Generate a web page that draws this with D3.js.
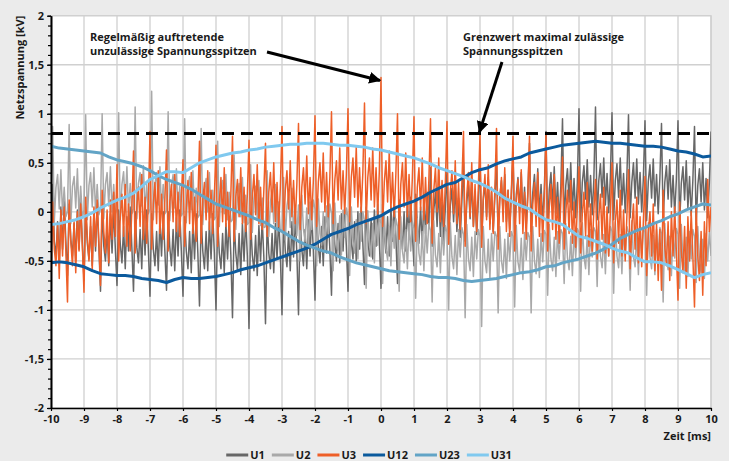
<!DOCTYPE html>
<html>
<head>
<meta charset="utf-8">
<script src="https://cdn.jsdelivr.net/npm/d3@7"></script>
<style>
  body { margin: 0; background: #ebebeb; }
  svg { display: block; font-family: "Open Sans", sans-serif; font-weight: 700; }
</style>
</head>
<body>
<svg id="chart" width="729" height="461"></svg>
<script>
// spiky phase voltages, one sample every 0.05 ms from -10 ms to 10 ms (one row = 0.5 ms)
const u1 = [
  -0.70, 0.28, -0.30, -0.45, -0.10, -0.52, 0.05, -0.38, 0.12, -0.30,
  -0.65, 0.08, -0.28, -0.45, -0.12, -0.50, 0.02, -0.38, 0.10, -0.32,
  -0.70, 0.05, -0.32, -0.48, -0.15, -0.55, 0.00, -0.40, 0.08, -0.35,
  -0.81, 0.05, -0.35, -0.50, -0.18, -0.55, -0.02, -0.42, 0.05, -0.38,
  -0.75, 0.02, -0.33, -0.52, -0.15, -0.58, -0.05, -0.40, 0.05, -0.36,
  -0.81, 0.00, -0.36, -0.52, -0.18, -0.58, -0.05, -0.44, 0.02, -0.38,
  -0.86, -0.02, -0.38, -0.55, -0.20, -0.60, -0.08, -0.45, 0.00, -0.40,
  -0.80, 0.00, -0.36, -0.55, -0.18, -0.60, -0.06, -0.45, 0.02, -0.40,
  -0.86, -0.05, -0.40, -0.58, -0.20, -0.62, -0.10, -0.48, -0.02, -0.42,
  -0.96, -0.05, -0.40, -0.58, -0.20, -0.60, -0.10, -0.48, -0.02, -0.42,
  -1.00, -0.08, -0.42, -0.58, -0.22, -0.62, -0.12, -0.48, -0.05, -0.44,
  -1.08, -0.10, -0.42, -0.60, -0.22, -0.64, -0.12, -0.50, -0.06, -0.45,
  -1.19, -0.10, -0.44, -0.60, -0.24, -0.65, -0.14, -0.50, -0.08, -0.46,
  -1.14, -0.08, -0.42, -0.58, -0.22, -0.62, -0.12, -0.48, -0.06, -0.44,
  -1.05, -0.06, -0.40, -0.56, -0.20, -0.60, -0.10, -0.46, -0.04, -0.42,
  -1.05, -0.05, -0.38, -0.55, -0.18, -0.58, -0.08, -0.45, -0.02, -0.40,
  -0.90, -0.02, -0.35, -0.52, -0.15, -0.55, -0.05, -0.42, 0.00, -0.38,
  -0.85, 0.00, -0.33, -0.50, -0.12, -0.52, -0.02, -0.40, 0.02, -0.35,
  -0.81, 0.03, -0.30, -0.48, -0.10, -0.50, 0.00, -0.38, 0.05, -0.32,
  -0.74, 0.05, -0.28, -0.45, -0.08, -0.48, 0.02, -0.35, 0.08, -0.30,
  -0.78, 0.08, -0.22, -0.42, -0.05, -0.45, 0.05, -0.30, 0.10, -0.25,
  -0.73, 0.12, -0.18, -0.38, 0.00, -0.40, 0.10, -0.28, 0.15, -0.22,
  -0.55, 0.18, -0.12, -0.32, 0.05, -0.35, 0.15, -0.22, 0.20, -0.15,
  0.45, -0.35, 0.02, 0.20, -0.15, 0.25, -0.25, 0.10, -0.30, 0.05,
  0.42, -0.32, 0.06, 0.24, -0.10, 0.28, -0.20, 0.14, -0.26, 0.10,
  0.50, -0.30, 0.10, 0.27, -0.07, 0.32, -0.15, 0.17, -0.23, 0.12,
  0.53, -0.28, 0.12, 0.30, -0.05, 0.35, -0.12, 0.20, -0.20, 0.15,
  0.50, -0.25, 0.15, 0.32, -0.02, 0.38, -0.10, 0.22, -0.18, 0.18,
  0.60, -0.22, 0.18, 0.35, 0.01, 0.40, -0.07, 0.25, -0.15, 0.20,
  0.70, -0.20, 0.20, 0.38, 0.04, 0.44, -0.04, 0.28, -0.12, 0.24,
  0.82, -0.17, 0.23, 0.40, 0.06, 0.46, -0.02, 0.30, -0.10, 0.26,
  0.95, -0.13, 0.27, 0.44, 0.10, 0.50, 0.02, 0.34, -0.06, 0.30,
  1.05, -0.10, 0.30, 0.47, 0.13, 0.53, 0.05, 0.37, -0.03, 0.33,
  1.07, -0.08, 0.32, 0.49, 0.15, 0.55, 0.07, 0.39, -0.01, 0.35,
  1.01, -0.08, 0.32, 0.49, 0.15, 0.55, 0.07, 0.39, -0.01, 0.35,
  0.99, -0.06, 0.30, 0.50, 0.14, 0.54, 0.08, 0.40, 0.00, 0.34,
  0.93, -0.09, 0.31, 0.48, 0.14, 0.54, 0.06, 0.38, -0.02, 0.34,
  0.90, -0.10, 0.30, 0.47, 0.13, 0.53, 0.05, 0.37, -0.03, 0.33,
  0.93, -0.11, 0.29, 0.46, 0.12, 0.52, 0.04, 0.36, -0.04, 0.32,
  0.87, -0.13, 0.27, 0.44, 0.10, 0.50, 0.02, 0.34, -0.06, 0.30,
  0.82
];

const u2 = [
  0.00, 0.87, -0.10, 0.25, 0.38, 0.03, 0.43, -0.03, 0.25, -0.05,
  0.00, 0.89, -0.12, 0.26, 0.36, 0.04, 0.44, -0.04, 0.26, -0.06,
  0.02, 0.99, -0.08, 0.27, 0.40, 0.05, 0.45, -0.01, 0.28, -0.03,
  0.03, 1.00, -0.07, 0.28, 0.40, 0.06, 0.46, 0.00, 0.28, -0.02,
  0.03, 1.01, -0.08, 0.28, 0.41, 0.06, 0.46, 0.00, 0.29, -0.02,
  0.03, 1.07, -0.07, 0.29, 0.40, 0.06, 0.47, 0.00, 0.28, -0.02,
  0.03, 1.23, -0.08, 0.28, 0.40, 0.07, 0.46, 0.00, 0.28, -0.02,
  0.01, 1.02, -0.09, 0.26, 0.38, 0.04, 0.44, -0.02, 0.26, -0.04,
  -0.01, 0.95, -0.11, 0.24, 0.36, 0.02, 0.42, -0.04, 0.24, -0.06,
  -0.03, 0.85, -0.13, 0.22, 0.34, 0.00, 0.40, -0.06, 0.22, -0.08,
  -0.05, 0.72, -0.15, 0.20, 0.32, -0.02, 0.38, -0.08, 0.20, -0.10,
  -0.08, 0.58, -0.18, 0.17, 0.29, -0.05, 0.35, -0.11, 0.17, -0.13,
  -0.11, 0.48, -0.21, 0.14, 0.26, -0.08, 0.32, -0.14, 0.14, -0.16,
  -0.15, 0.42, -0.25, 0.10, 0.22, -0.12, 0.28, -0.18, 0.10, -0.20,
  -0.19, 0.35, -0.29, 0.06, 0.18, -0.16, 0.24, -0.22, 0.06, -0.24,
  0.07, -0.50, 0.17, -0.18, -0.30, 0.04, -0.36, 0.10, -0.18, 0.12,
  0.03, -0.55, 0.13, -0.22, -0.34, 0.00, -0.40, 0.06, -0.22, 0.08,
  -0.01, -0.60, 0.09, -0.26, -0.38, -0.04, -0.44, 0.02, -0.26, 0.04,
  -0.05, -0.65, 0.05, -0.30, -0.42, -0.08, -0.48, -0.02, -0.30, 0.00,
  -0.09, -0.78, 0.01, -0.34, -0.46, -0.12, -0.52, -0.06, -0.34, -0.04,
  -0.12, -0.73, -0.02, -0.37, -0.49, -0.15, -0.55, -0.09, -0.37, -0.07,
  -0.15, -0.81, -0.05, -0.40, -0.52, -0.18, -0.58, -0.12, -0.40, -0.10,
  -0.17, -0.88, -0.07, -0.42, -0.54, -0.20, -0.60, -0.14, -0.42, -0.12,
  -0.19, -0.92, -0.09, -0.44, -0.56, -0.22, -0.62, -0.16, -0.44, -0.14,
  -0.21, -1.00, -0.11, -0.46, -0.58, -0.24, -0.64, -0.18, -0.46, -0.16,
  -0.23, -1.08, -0.13, -0.48, -0.60, -0.26, -0.66, -0.20, -0.48, -0.18,
  -0.25, -1.17, -0.15, -0.50, -0.62, -0.28, -0.68, -0.22, -0.50, -0.20,
  -0.25, -1.03, -0.15, -0.50, -0.62, -0.28, -0.68, -0.22, -0.50, -0.20,
  -0.25, -0.97, -0.14, -0.51, -0.61, -0.27, -0.69, -0.21, -0.49, -0.21,
  -0.26, -1.03, -0.15, -0.50, -0.63, -0.28, -0.67, -0.22, -0.51, -0.19,
  -0.23, -0.85, -0.13, -0.48, -0.60, -0.26, -0.66, -0.20, -0.48, -0.18,
  -0.22, -0.73, -0.12, -0.47, -0.59, -0.25, -0.65, -0.19, -0.47, -0.17,
  -0.21, -0.81, -0.11, -0.46, -0.58, -0.24, -0.64, -0.18, -0.46, -0.16,
  -0.20, -0.76, -0.10, -0.45, -0.57, -0.23, -0.63, -0.17, -0.45, -0.15,
  -0.20, -0.83, -0.10, -0.45, -0.57, -0.23, -0.63, -0.17, -0.45, -0.15,
  -0.21, -0.80, -0.09, -0.46, -0.56, -0.22, -0.64, -0.16, -0.44, -0.16,
  -0.21, -0.85, -0.11, -0.46, -0.58, -0.24, -0.64, -0.18, -0.46, -0.16,
  -0.22, -0.92, -0.12, -0.47, -0.59, -0.25, -0.65, -0.19, -0.47, -0.17,
  -0.23, -0.78, -0.13, -0.48, -0.60, -0.26, -0.66, -0.20, -0.48, -0.18,
  -0.25, -0.72, -0.15, -0.50, -0.62, -0.28, -0.68, -0.22, -0.50, -0.20,
  -0.45
];

const u3 = [
  -0.75, 0.10, -0.38, -0.55, -0.12, -0.68, 0.02, -0.45, 0.05, -0.40,
  -0.92, 0.12, -0.30, -0.55, -0.10, -0.62, 0.00, -0.40, 0.08, -0.35,
  -0.82, 0.15, -0.25, -0.50, -0.05, -0.60, 0.05, -0.35, 0.12, -0.30,
  -0.75, 0.22, -0.20, -0.42, 0.02, -0.52, 0.12, -0.28, 0.20, -0.25,
  0.48, -0.50, -0.05, 0.18, -0.25, 0.28, -0.35, 0.08, -0.40, 0.02,
  0.62, -0.42, 0.05, 0.25, -0.15, 0.38, -0.28, 0.15, -0.32, 0.10,
  0.82, -0.38, 0.08, 0.30, -0.12, 0.42, -0.22, 0.18, -0.28, 0.12,
  0.63, -0.40, 0.10, 0.28, -0.10, 0.38, -0.20, 0.20, -0.25, 0.15,
  0.53, -0.35, 0.05, 0.32, -0.12, 0.40, -0.22, 0.15, -0.30, 0.10,
  0.72, -0.32, 0.12, 0.30, -0.08, 0.42, -0.18, 0.22, -0.22, 0.15,
  0.68, -0.35, 0.10, 0.35, -0.10, 0.45, -0.15, 0.20, -0.25, 0.18,
  0.77, -0.30, 0.15, 0.33, -0.05, 0.45, -0.12, 0.25, -0.20, 0.18,
  0.73, -0.28, 0.15, 0.38, -0.03, 0.48, -0.12, 0.25, -0.18, 0.22,
  0.70, -0.25, 0.20, 0.40, 0.00, 0.50, -0.10, 0.30, -0.15, 0.25,
  0.87, -0.22, 0.22, 0.42, 0.03, 0.52, -0.05, 0.32, -0.12, 0.28,
  0.90, -0.18, 0.25, 0.45, 0.08, 0.57, -0.02, 0.35, -0.08, 0.32,
  0.98, -0.15, 0.30, 0.50, 0.10, 0.60, 0.00, 0.40, -0.05, 0.35,
  1.02, -0.12, 0.32, 0.52, 0.12, 0.65, 0.03, 0.42, -0.02, 0.38,
  1.05, -0.10, 0.35, 0.55, 0.15, 0.66, 0.05, 0.45, 0.00, 0.40,
  1.11, -0.12, 0.35, 0.55, 0.12, 0.65, 0.05, 0.45, -0.02, 0.42,
  1.37, -0.15, 0.30, 0.52, 0.10, 0.62, 0.02, 0.40, -0.05, 0.38,
  1.00, -0.28, 0.28, 0.50, 0.05, 0.60, -0.05, 0.38, -0.10, 0.35,
  0.97, -0.30, 0.25, 0.45, 0.02, 0.55, -0.08, 0.35, -0.12, 0.32,
  0.95, -0.32, 0.22, 0.45, 0.00, 0.55, -0.10, 0.32, -0.15, 0.30,
  0.92, -0.33, 0.20, 0.42, -0.02, 0.52, -0.12, 0.30, -0.18, 0.28,
  0.82, -0.35, 0.18, 0.40, -0.05, 0.50, -0.15, 0.28, -0.20, 0.25,
  0.79, -0.36, 0.15, 0.38, -0.08, 0.48, -0.18, 0.25, -0.22, 0.22,
  0.85, -0.38, 0.12, 0.35, -0.10, 0.45, -0.20, 0.22, -0.25, 0.20,
  0.77, -0.40, 0.10, 0.33, -0.12, 0.43, -0.22, 0.20, -0.28, 0.18,
  0.77, -0.40, 0.08, 0.30, -0.15, 0.40, -0.25, 0.18, -0.30, 0.15,
  0.79, -0.40, 0.05, 0.28, -0.18, 0.38, -0.28, 0.15, -0.32, 0.10,
  0.56, -0.38, 0.00, 0.22, -0.22, 0.32, -0.32, 0.10, -0.36, 0.05,
  0.46, -0.42, -0.02, 0.20, -0.25, 0.30, -0.35, 0.08, -0.40, 0.02,
  0.33, -0.48, -0.05, 0.18, -0.28, 0.25, -0.42, 0.05, -0.45, 0.00,
  0.50, -0.52, -0.10, 0.12, -0.32, 0.22, -0.45, 0.02, -0.50, -0.05,
  0.43, -0.58, -0.15, 0.08, -0.38, 0.15, -0.52, -0.05, -0.56, -0.10,
  0.36, -0.65, -0.22, 0.00, -0.45, 0.08, -0.60, -0.12, -0.70, -0.18,
  -0.80, 0.22, -0.35, -0.55, -0.10, -0.70, 0.00, -0.45, 0.05, -0.40,
  -0.90, 0.10, -0.40, -0.62, -0.15, -0.78, -0.05, -0.50, 0.00, -0.45,
  -0.97, 0.05, -0.45, -0.70, -0.20, -0.85, -0.10, -0.55, 0.33, -0.20,
  0.05
];

// line-to-line voltages, one sample every 0.25 ms from -10 ms to 10 ms
const u12 = [
  -0.52, -0.51, -0.52, -0.54, -0.56, -0.60, -0.63, -0.64, -0.65, -0.65,
  -0.66, -0.68, -0.69, -0.70, -0.72, -0.69, -0.67, -0.68, -0.68, -0.67,
  -0.66, -0.64, -0.62, -0.59, -0.57, -0.55, -0.52, -0.49, -0.46, -0.43,
  -0.40, -0.37, -0.33, -0.28, -0.23, -0.20, -0.17, -0.13, -0.10, -0.07,
  -0.04, 0.01, 0.05, 0.08, 0.11, 0.15, 0.20, 0.24, 0.28, 0.30,
  0.35, 0.40, 0.43, 0.45, 0.49, 0.52, 0.54, 0.56, 0.60, 0.62,
  0.64, 0.66, 0.68, 0.69, 0.70, 0.71, 0.72, 0.71, 0.70, 0.70,
  0.69, 0.68, 0.67, 0.67, 0.66, 0.64, 0.62, 0.61, 0.59, 0.56,
  0.57
];

const u23 = [
  0.67, 0.65, 0.64, 0.63, 0.62, 0.61, 0.60, 0.56, 0.53, 0.51,
  0.49, 0.46, 0.42, 0.37, 0.33, 0.30, 0.27, 0.23, 0.18, 0.13,
  0.08, 0.05, 0.02, -0.01, -0.04, -0.08, -0.11, -0.16, -0.20, -0.25,
  -0.30, -0.34, -0.37, -0.40, -0.42, -0.46, -0.49, -0.52, -0.54, -0.56,
  -0.58, -0.60, -0.61, -0.62, -0.63, -0.64, -0.66, -0.67, -0.67, -0.68,
  -0.70, -0.71, -0.70, -0.69, -0.68, -0.66, -0.64, -0.62, -0.61, -0.59,
  -0.56, -0.55, -0.52, -0.50, -0.48, -0.45, -0.42, -0.38, -0.33, -0.27,
  -0.23, -0.19, -0.16, -0.12, -0.09, -0.05, -0.02, 0.02, 0.05, 0.08,
  0.07
];

const u31 = [
  -0.13, -0.12, -0.10, -0.08, -0.05, -0.01, 0.04, 0.08, 0.12, 0.15,
  0.19, 0.26, 0.33, 0.37, 0.41, 0.41, 0.40, 0.45, 0.50, 0.53,
  0.56, 0.58, 0.60, 0.61, 0.63, 0.64, 0.66, 0.67, 0.68, 0.69,
  0.69, 0.70, 0.70, 0.70, 0.69, 0.68, 0.68, 0.67, 0.66, 0.64,
  0.63, 0.61, 0.59, 0.57, 0.55, 0.52, 0.49, 0.45, 0.42, 0.39,
  0.36, 0.32, 0.29, 0.25, 0.20, 0.14, 0.10, 0.06, 0.03, -0.03,
  -0.08, -0.10, -0.13, -0.19, -0.25, -0.27, -0.30, -0.33, -0.37, -0.40,
  -0.42, -0.47, -0.51, -0.51, -0.52, -0.55, -0.59, -0.63, -0.67, -0.64,
  -0.62
];

const seriesNames = ["U1", "U2", "U3", "U12", "U23", "U31"];
const seriesColors = ["#676767", "#a9a9a9", "#ee5f28", "#0b5a9d", "#62a4c6", "#80c9ef"];
const seriesWidths = [1.5, 1.5, 1.5, 3, 3, 3];
const seriesValues = [u1, u2, u3, u12, u23, u31];
const seriesSteps = [0.05, 0.05, 0.05, 0.25, 0.25, 0.25];

const xTicks = d3.range(-10, 11, 1);
const yTicks = [-2, -1.5, -1, -0.5, 0, 0.5, 1, 1.5, 2];
const yTickLabels = ["-2", "-1,5", "-1", "-0,5", "0", "0,5", "1", "1,5", "2"];
const yMinor = d3.range(-20, 21).map(d => d / 10);
const limitValue = 0.8;

const svg = d3.select("#chart");
const x = d3.scaleLinear().domain([-10, 10]).range([51, 711]);
const y = d3.scaleLinear().domain([-2, 2]).range([408, 15.7]);

svg.append("rect").attr("width", 729).attr("height", 461).attr("fill", "#ebebeb");
svg.append("rect")
  .attr("x", x(-10)).attr("y", y(2))
  .attr("width", x(10) - x(-10)).attr("height", y(-2) - y(2))
  .attr("fill", "#fff").attr("stroke", "#cacaca").attr("stroke-width", 1.2);

svg.append("clipPath").attr("id", "plot")
  .append("rect")
  .attr("x", x(-10)).attr("y", y(2))
  .attr("width", x(10) - x(-10)).attr("height", y(-2) - y(2));

// grid
const grid = svg.append("g").attr("stroke", "#d0d0d0").attr("stroke-width", 1.3);
grid.selectAll(".gx").data(xTicks.slice(1)).join("line")
  .attr("x1", d => x(d)).attr("x2", d => x(d))
  .attr("y1", y(2)).attr("y2", y(-2));
grid.selectAll(".gy").data(yTicks.slice(1)).join("line")
  .attr("x1", x(-10)).attr("x2", x(10))
  .attr("y1", d => y(d)).attr("y2", d => y(d));

// series
const lines = svg.append("g").attr("clip-path", "url(#plot)");
seriesValues.forEach((vals, s) => {
  const line = d3.line()
    .x((d, i) => x(-10 + i * seriesSteps[s]))
    .y(d => y(d));
  lines.append("path")
    .datum(vals)
    .attr("d", line)
    .attr("fill", "none")
    .attr("stroke", seriesColors[s])
    .attr("stroke-width", seriesWidths[s])
    .attr("stroke-linejoin", "round");
});

// limit line
svg.append("line")
  .attr("x1", x(-10)).attr("x2", x(10))
  .attr("y1", y(limitValue)).attr("y2", y(limitValue))
  .attr("stroke", "#000").attr("stroke-width", 3)
  .attr("stroke-dasharray", "12 7");

// axes
const yAxisMinor = d3.axisLeft(y).tickValues(yMinor).tickSize(3).tickSizeOuter(0).tickFormat("");
const yAxis = d3.axisLeft(y).tickValues(yTicks).tickSize(4).tickSizeOuter(0)
  .tickFormat((d, i) => yTickLabels[i]).tickPadding(3);
const xAxis = d3.axisBottom(x).tickValues(xTicks).tickSize(3).tickSizeOuter(0).tickPadding(4)
  .tickFormat(d => String(d));

svg.append("g").attr("transform", `translate(${x(-10)},0)`).call(yAxisMinor);
svg.append("g").attr("transform", `translate(${x(-10)},0)`).call(yAxis);
svg.append("g").attr("transform", `translate(0,${y(-2)})`).call(xAxis);

svg.selectAll(".domain").attr("stroke", "#000").attr("stroke-width", 1.6);
svg.selectAll(".tick line").attr("stroke", "#000").attr("stroke-width", 1.2);
svg.selectAll(".tick text")
  .attr("font-family", "'Open Sans', sans-serif")
  .attr("font-weight", 700).attr("font-size", 11).attr("fill", "#1a1a1a");

// axis titles
svg.append("text")
  .attr("transform", `translate(24,${y(2)}) rotate(-90)`)
  .attr("text-anchor", "end")
  .attr("font-size", 11).attr("fill", "#1a1a1a")
  .text("Netzspannung [kV]");
svg.append("text")
  .attr("x", x(10)).attr("y", 440)
  .attr("text-anchor", "end")
  .attr("font-size", 11).attr("fill", "#1a1a1a")
  .text("Zeit [ms]");

// annotations
svg.append("defs").append("marker")
  .attr("id", "head").attr("markerUnits", "userSpaceOnUse")
  .attr("viewBox", "0 -5 10 10").attr("refX", 9).attr("refY", 0)
  .attr("markerWidth", 12).attr("markerHeight", 12).attr("orient", "auto")
  .append("path").attr("d", "M0,-5L10,0L0,5Z").attr("fill", "#000");

const notes = svg.append("g").attr("font-size", 11).attr("fill", "#1a1a1a");
const n1 = notes.append("text").attr("x", 90).attr("y", 41);
n1.append("tspan").attr("x", 90).text("Regelmäßig auftretende");
n1.append("tspan").attr("x", 90).attr("dy", 13.5).text("unzulässige Spannungsspitzen");
const n2 = notes.append("text").attr("x", 463).attr("y", 41);
n2.append("tspan").attr("x", 463).text("Grenzwert maximal zulässige");
n2.append("tspan").attr("x", 463).attr("dy", 13.5).text("Spannungsspitzen");

svg.append("line")
  .attr("x1", 267).attr("y1", 52).attr("x2", x(0) - 1).attr("y2", y(1.34))
  .attr("stroke", "#000").attr("stroke-width", 3).attr("marker-end", "url(#head)");
svg.append("line")
  .attr("x1", 502).attr("y1", 62).attr("x2", x(2.98)).attr("y2", y(limitValue) - 1)
  .attr("stroke", "#000").attr("stroke-width", 3).attr("marker-end", "url(#head)");

// legend
const legend = svg.append("g").attr("font-size", 11).attr("fill", "#1a1a1a");
let lx = 0;
seriesNames.forEach((name, i) => {
  const g = legend.append("g").attr("transform", `translate(${lx},0)`);
  g.append("line").attr("x1", 0).attr("x2", 22).attr("y1", 455).attr("y2", 455)
    .attr("stroke", seriesColors[i]).attr("stroke-width", 3);
  const t = g.append("text").attr("x", 24).attr("y", 459).text(name);
  lx += 24 + t.node().getComputedTextLength() + 7;
});
const legendWidth = lx - 7;
legend.attr("transform", `translate(${369 - legendWidth / 2},0)`);
</script>
</body>
</html>
